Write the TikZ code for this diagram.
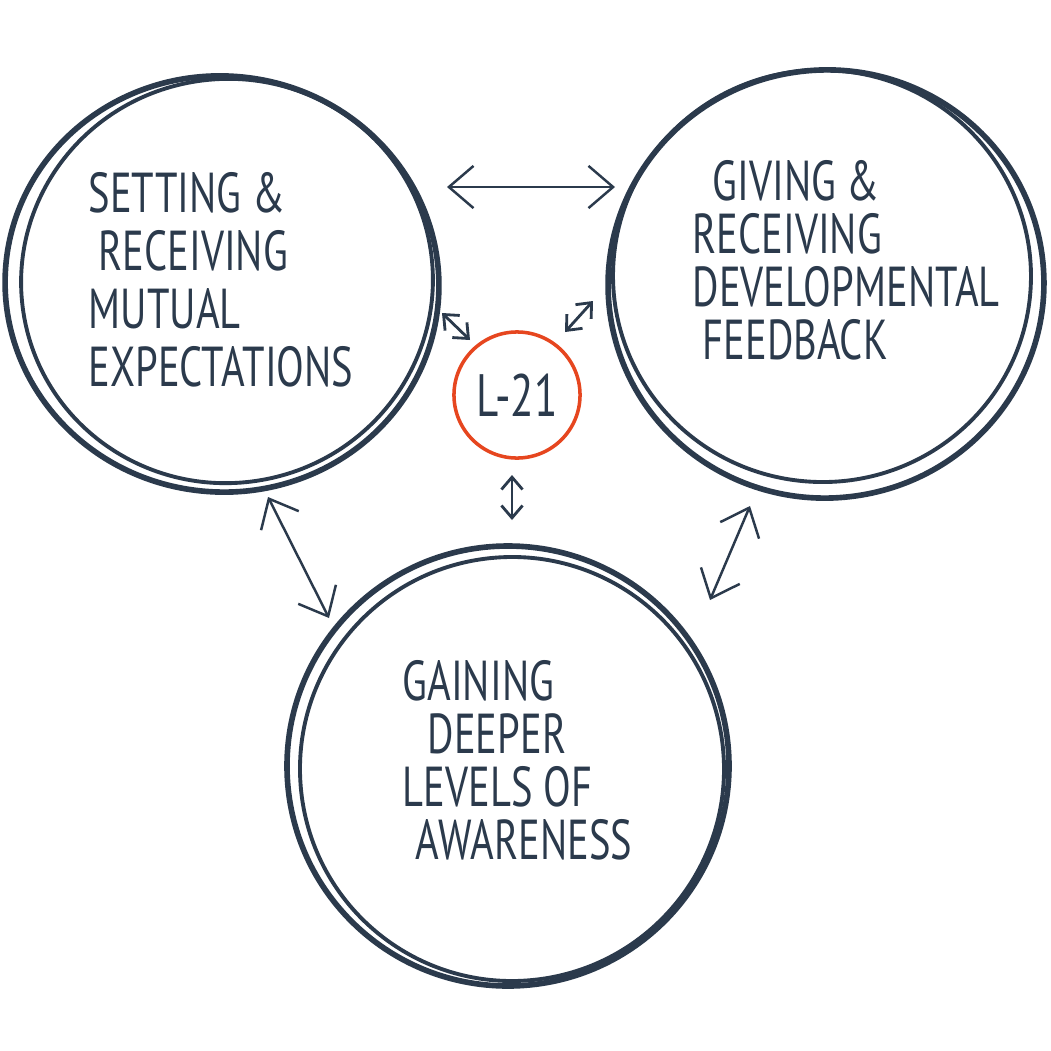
\documentclass[tikz,border=0pt]{standalone}
\usepackage{fontspec}
\usepackage{xcolor}
\usetikzlibrary{arrows.meta,positioning}
\newfontfamily\handfont{PT Sans}[FakeStretch=0.72]
\definecolor{ink}{HTML}{2B3A4C}
\definecolor{redring}{HTML}{E6461F}

\tikzset{
    ring/.style={draw=ink, line width=1.6pt},
    thinring/.style={draw=ink, line width=1.1pt},
    lbl/.style={text=ink, font=\handfont\fontsize{16}{15}\selectfont, align=left, inner sep=0pt},
    bigarrow/.style={draw=ink, line width=0.7pt, {Straight Barb[length=7pt,width=12pt]}-{Straight Barb[length=7pt,width=12pt]}},
    smallarrow/.style={draw=ink, line width=0.8pt, {Straight Barb[length=3.5pt,width=6pt]}-{Straight Barb[length=3.5pt,width=6pt]}}
}

\begin{document}
\begin{tikzpicture}[x=0.01cm, y=-0.01cm]
    \fill[white] (0,0) rectangle (1051,1051);
    \useasboundingbox (0,0) rectangle (1051,1051);

    % the three big rings, each drawn twice
    \draw[ring] (222,284) ellipse [x radius=217, y radius=208, rotate=-6];
    \draw[thinring] (227,281) ellipse [x radius=206, y radius=202, rotate=10];
    \draw[ring] (826,284) ellipse [x radius=218, y radius=214, rotate=8];
    \draw[thinring] (822,276) ellipse [x radius=209, y radius=206, rotate=-5];
    \draw[ring] (508,766) ellipse [x radius=221, y radius=220];
    \draw[thinring] (512,769) ellipse [x radius=212, y radius=212, rotate=6];

    % the small red ring in the middle
    \node[draw=redring, line width=1pt, circle, minimum size=1.26cm, inner sep=0pt] (core) at (517,395) {};
    \node[lbl, font=\handfont\fontsize{17}{15}\selectfont] (corelbl) at (core) {L-21};

    \node[lbl, anchor=north west, font=\handfont\fontsize{16}{16.5}\selectfont] (setting) at (88,172)
        {SETTING \&\\\hspace*{0.1cm}RECEIVING\\MUTUAL\\EXPECTATIONS};
    \node[lbl, anchor=north west] (giving) at (692,160)
        {\hspace*{0.2cm}GIVING \&\\RECEIVING\\DEVELOPMENTAL\\\hspace*{0.1cm}FEEDBACK};
    \node[lbl, anchor=north west] (gaining) at (402,660)
        {GAINING\\\hspace*{0.25cm}DEEPER\\LEVELS OF\\\hspace*{0.13cm}AWARENESS};

    % arrow ends
    \coordinate (topL) at (447,187);
    \coordinate (topR) at (615,187);
    \coordinate (diagLa) at (442,313);
    \coordinate (diagLb) at (470,340);
    \coordinate (diagRa) at (565,332);
    \coordinate (diagRb) at (593,301);
    \coordinate (vertA) at (512,475);
    \coordinate (vertB) at (512,520);
    \coordinate (lowLa) at (268,497);
    \coordinate (lowLb) at (329,618);
    \coordinate (lowRa) at (750,506);
    \coordinate (lowRb) at (710,600);

    \draw[bigarrow] (topL) -- (topR);
    \draw[bigarrow] (lowLa) -- (lowLb);
    \draw[bigarrow] (lowRa) -- (lowRb);
    \draw[smallarrow] (diagLa) -- (diagLb);
    \draw[smallarrow] (diagRa) -- (diagRb);
    \draw[smallarrow] (vertA) -- (vertB);
\end{tikzpicture}
\end{document}
